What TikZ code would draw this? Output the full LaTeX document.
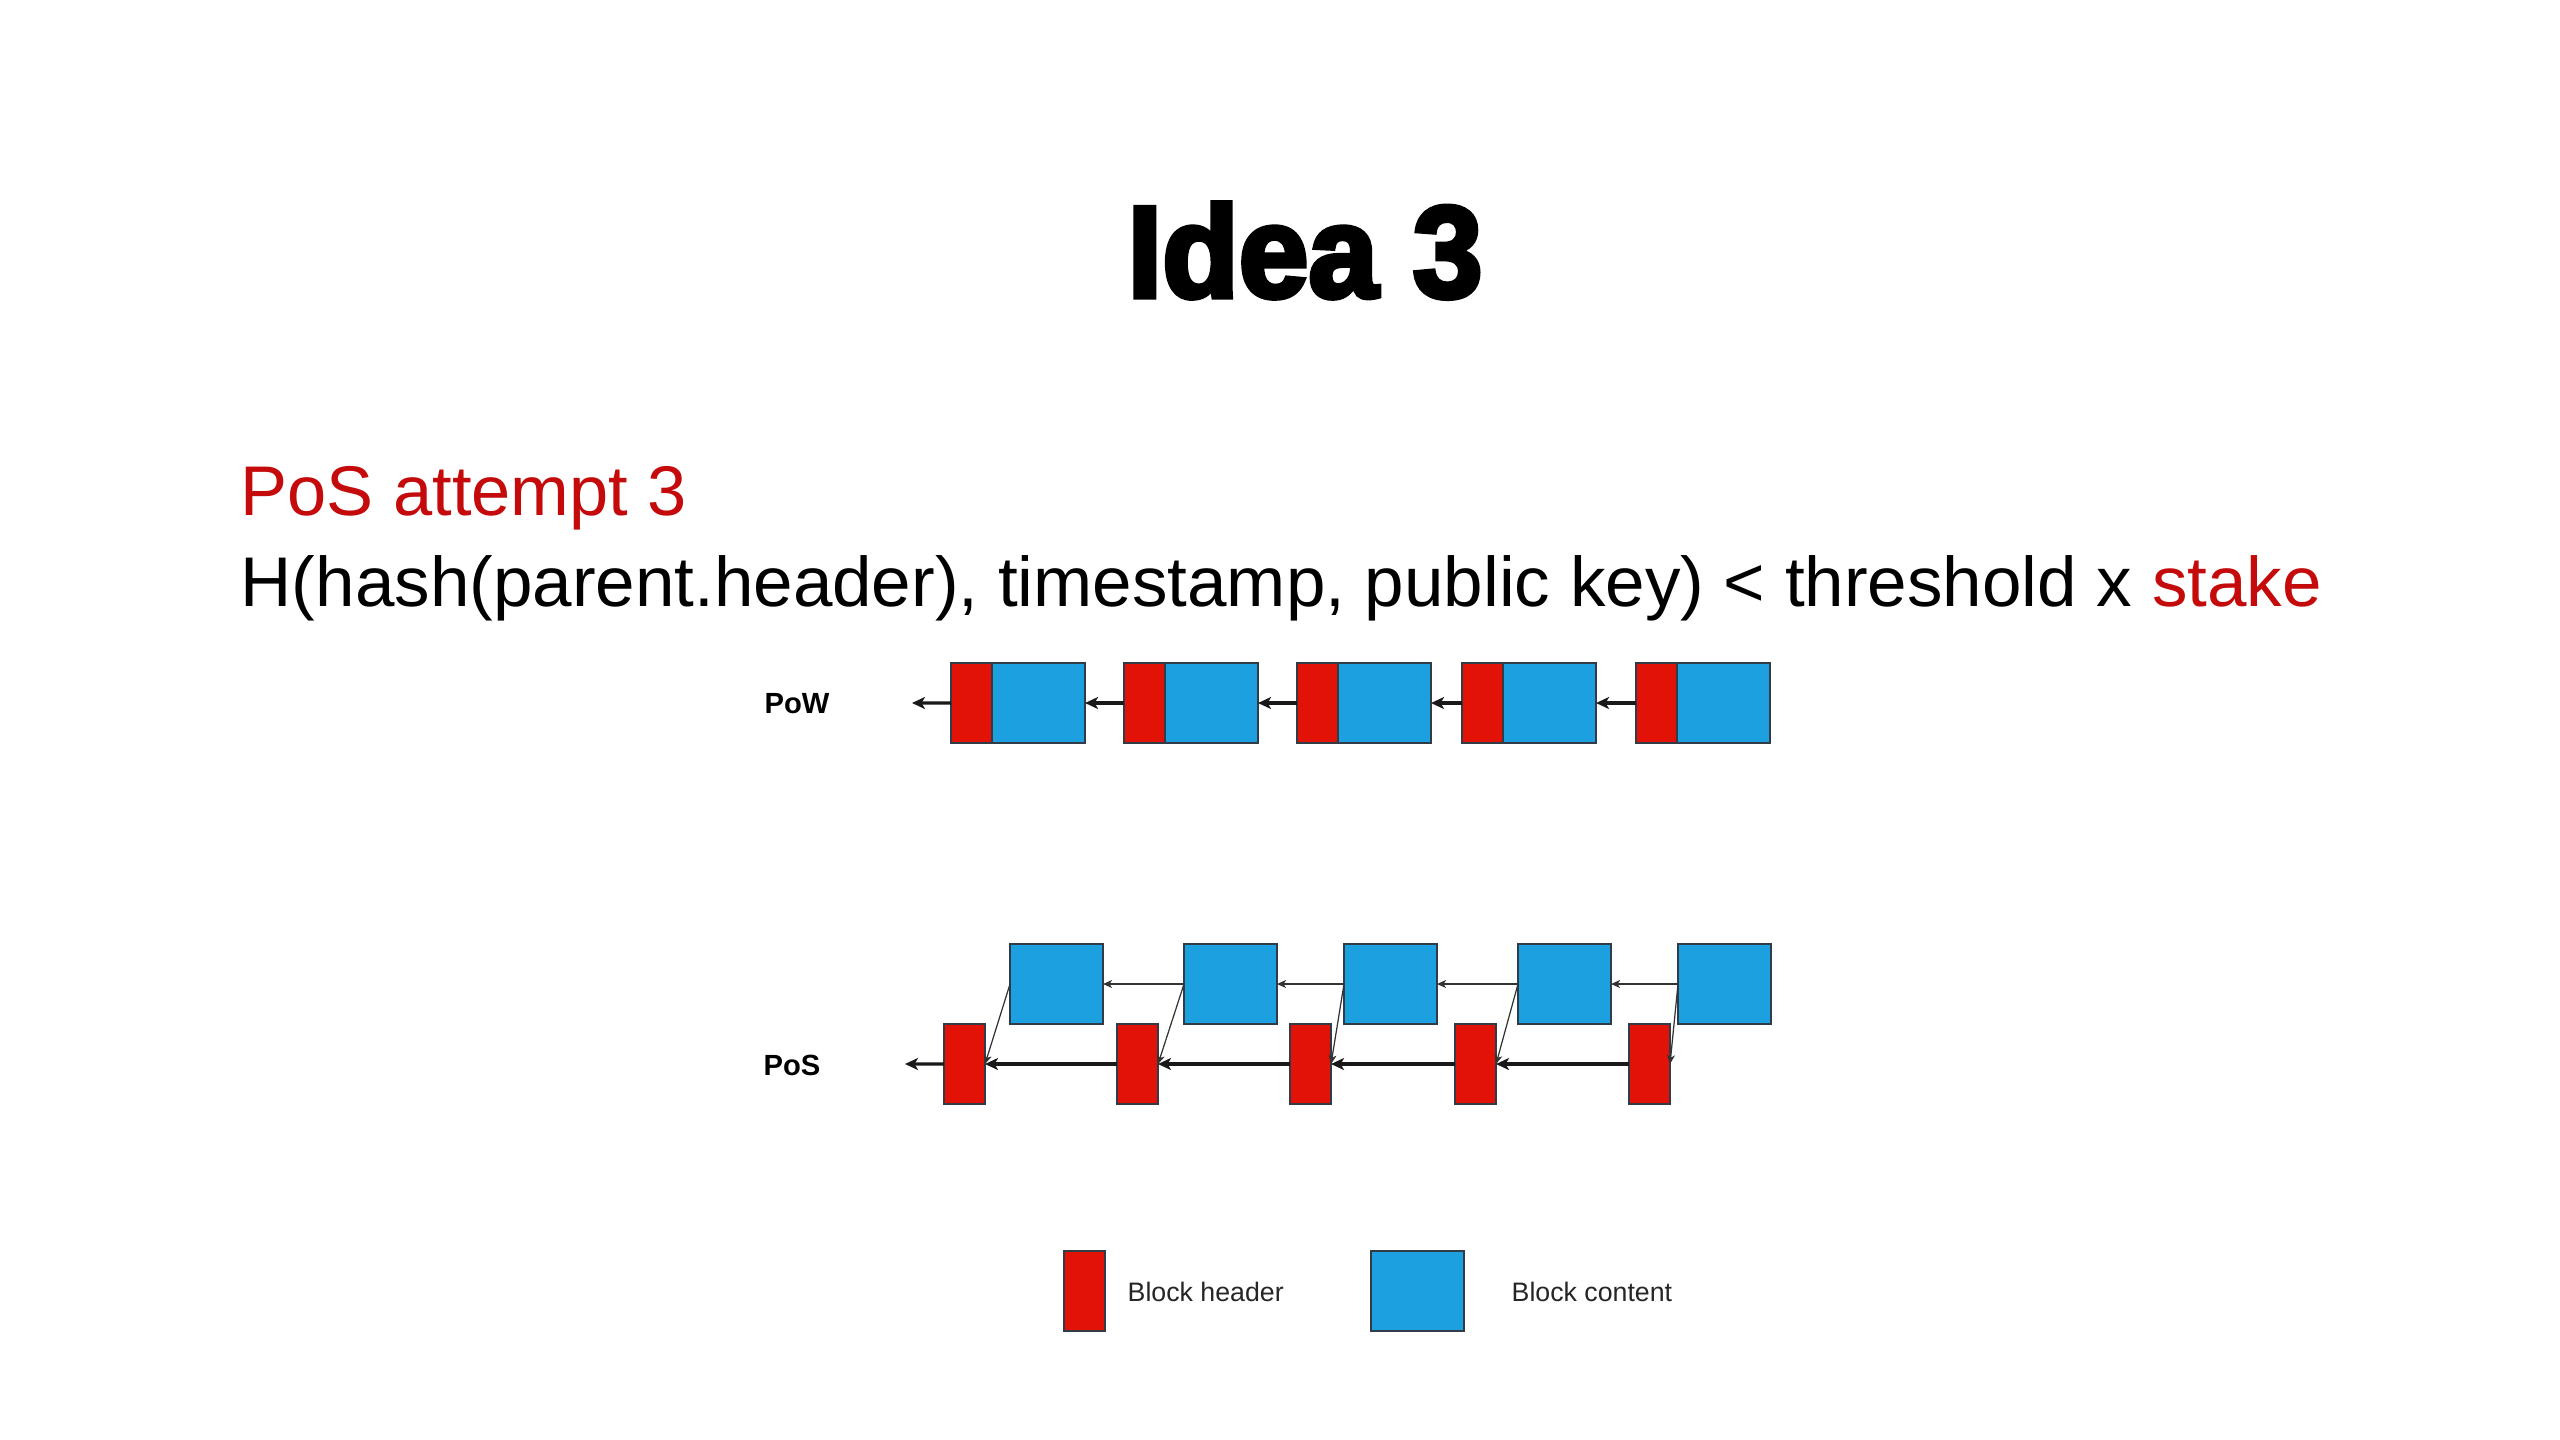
\documentclass[tikz,border=0pt]{standalone}
\usepackage{graphicx}
\usepackage{fontspec}
\setmainfont{Liberation Sans}
\newfontfamily\titlefont[FakeBold=4]{Liberation Sans}
\usetikzlibrary{arrows.meta}
\definecolor{hred}{RGB}{226,18,6}
\definecolor{cblue}{RGB}{29,160,224}
\definecolor{edgec}{RGB}{50,60,70}
\definecolor{tred}{RGB}{196,10,10}
\begin{document}
\begin{tikzpicture}[x=0.01cm,y=-0.01cm,
  hdr/.style={draw=edgec, fill=hred, line width=0.4pt, minimum width=0.41cm, minimum height=0.80cm, inner sep=0pt, outer sep=0pt, anchor=north west},
  cnt/.style={draw=edgec, fill=cblue, line width=0.4pt, minimum width=0.93cm, minimum height=0.80cm, inner sep=0pt, outer sep=0pt, anchor=north west},
  chain/.style={line width=0.9pt, draw=black!90, -{Stealth[length=1.3mm,width=1.2mm,inset=0.35mm]}},
  link/.style={line width=0.35pt, draw=black!80, -{Stealth[length=0.9mm,width=0.8mm,inset=0.25mm]}},
  rowlbl/.style={font=\fontsize{8.3pt}{10pt}\selectfont\bfseries, inner sep=0pt},
  leg/.style={font=\fontsize{7.6pt}{9pt}\selectfont, text=black!85, inner sep=0pt, anchor=base west}]
\fill[white] (0,0) rectangle (2560,1440);
\useasboundingbox (0,0) rectangle (2560,1440);
% title and text
\node[anchor=base, inner sep=0pt] (title) at (1305,297) {\resizebox{3.55cm}{\height}{\titlefont\fontsize{37pt}{40pt}\selectfont\bfseries Idea 3}};
\node[anchor=base west, inner sep=0pt] (line1) at (240,516) {\resizebox{4.46cm}{\height}{\fontsize{20pt}{24pt}\selectfont\textcolor{tred}{PoS attempt 3}}};
\node[anchor=base west, inner sep=0pt] (line2) at (240,607) {\resizebox{20.80cm}{\height}{\fontsize{20pt}{24pt}\selectfont H(hash(parent.header), timestamp, public key) < threshold x \textcolor{tred}{stake}}};
% PoW row
\node[rowlbl] (powl) at (797,704) {PoW};
\foreach \i/\x in {1/951,2/1124,3/1297,4/1462,5/1636} {
  \node[hdr] (wh\i) at (\x,663) {};
  \node[cnt] (wc\i) at (\x+41,663) {};
}
\coordinate (w0) at (912,703);
\draw[chain] (wh1.west) -- (w0);
\foreach \i/\j in {2/1,3/2,4/3,5/4} \draw[chain] (wh\i.west) -- (wc\j.east);
% PoS row
\node[rowlbl] (posl) at (792,1065) {PoS};
\foreach \i/\x/\y in {1/944/1010,2/1117/1184,3/1290/1344,4/1455/1518,5/1629/1678} {
  \node[hdr] (sh\i) at (\x,1024) {};
  \node[cnt] (sc\i) at (\y,944) {};
}
\coordinate (s0) at (905,1064);
\draw[chain] (sh1.west) -- (s0);
\foreach \i/\j in {2/1,3/2,4/3,5/4} {
  \draw[chain] (sh\i.west) -- (sh\j.east);
  \draw[link] (sc\i.west) -- (sc\j.east);
}
\foreach \i in {1,...,5} \draw[link] (sc\i.west) -- (sh\i.east);
% legend
\node[hdr] (lh) at (1064,1251) {};
\node[leg] (lht) at (1127,1301) {Block header};
\node[cnt] (lc) at (1371,1251) {};
\node[leg] (lct) at (1511,1301) {Block content};
\end{tikzpicture}
\end{document}
